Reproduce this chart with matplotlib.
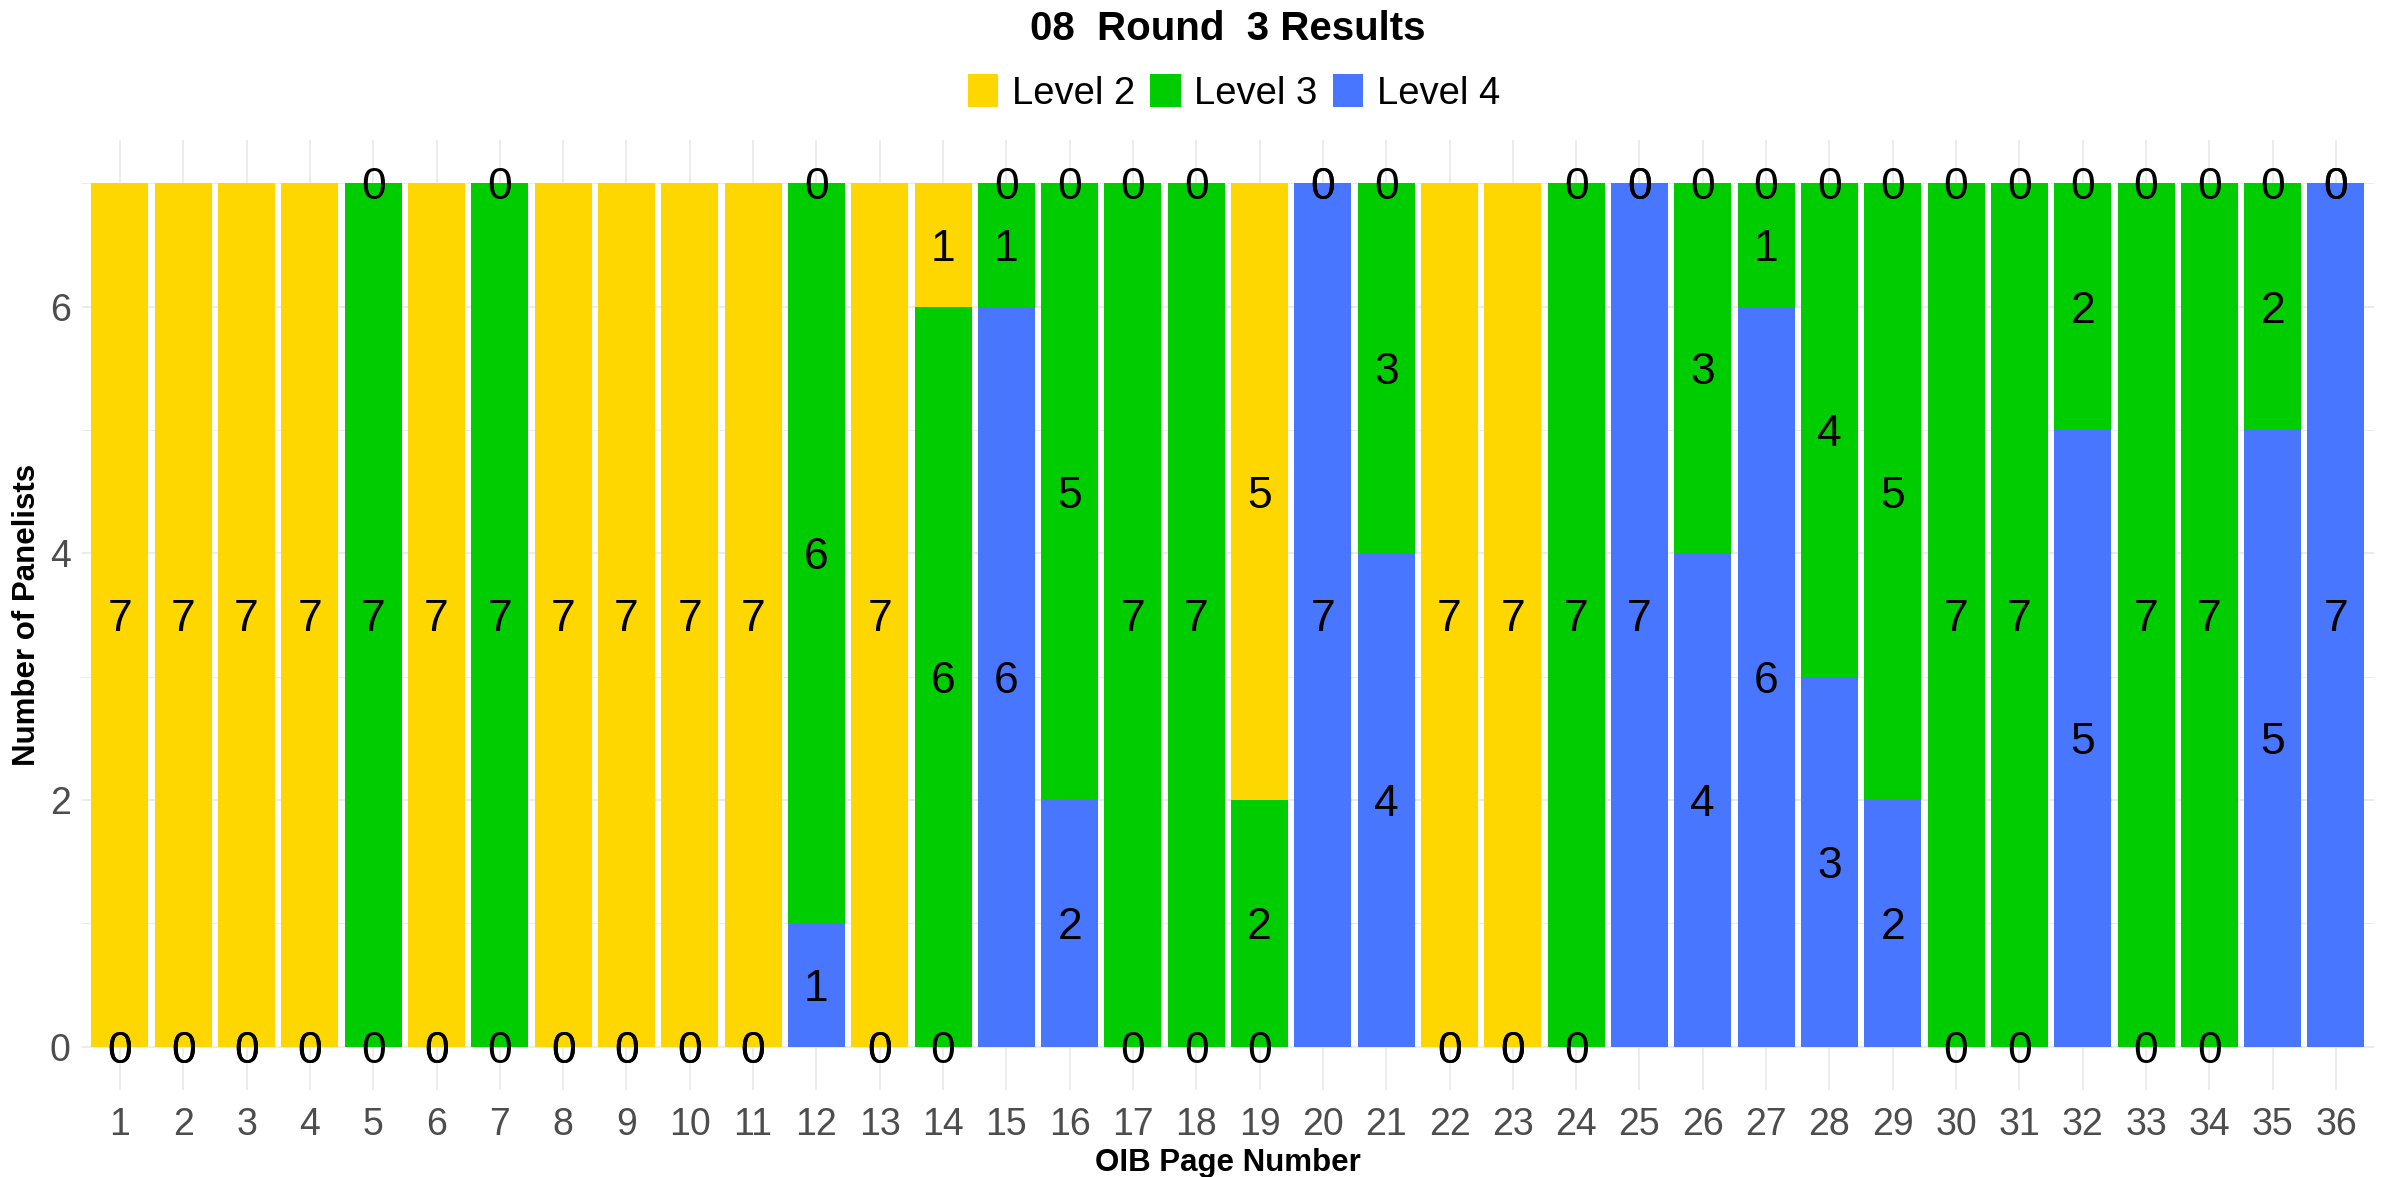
import matplotlib
matplotlib.use('Agg')
import matplotlib.pyplot as plt
from matplotlib.patches import Patch
import numpy as np

pages = list(range(1, 37))
levels = ['Level 2', 'Level 3', 'Level 4']
level2 = [7, 7, 7, 7, 0, 7, 0, 7, 7, 7, 7, 0, 7, 1, 0, 0, 0, 0,
          5, 0, 0, 7, 7, 0, 0, 0, 0, 0, 0, 0, 0, 0, 0, 0, 0, 0]
level3 = [0, 0, 0, 0, 7, 0, 7, 0, 0, 0, 0, 6, 0, 6, 1, 5, 7, 7,
          2, 0, 3, 0, 0, 7, 0, 3, 1, 4, 5, 7, 7, 2, 7, 7, 2, 0]
level4 = [0, 0, 0, 0, 0, 0, 0, 0, 0, 0, 0, 1, 0, 0, 6, 2, 0, 0,
          0, 7, 4, 0, 0, 0, 7, 4, 6, 3, 2, 0, 0, 5, 0, 0, 5, 7]

colors = {'Level 2': '#FFD700', 'Level 3': '#00CD00', 'Level 4': '#4876FF'}

plt.rcParams['font.family'] = ['Liberation Sans', 'DejaVu Sans']

fig = plt.figure(figsize=(23.89, 11.77), dpi=100)
ax = fig.add_axes([0.0343, 0.0739, 0.9594, 0.8071])

x = np.array(pages)
# ggplot stacking: Level 4 at the bottom, Level 2 on top
stack = [('Level 4', level4), ('Level 3', level3), ('Level 2', level2)]
bottom = np.zeros(len(pages))
for name, vals in stack:
    vals = np.array(vals, dtype=float)
    ax.bar(x, vals, width=0.9, bottom=bottom, color=colors[name],
           linewidth=0, zorder=2)
    for xi, b, v in zip(x, bottom, vals):
        ax.text(xi, b + v / 2, '%d' % v, ha='center', va='center_baseline',
                fontsize=32, color='black', zorder=4)
    bottom = bottom + vals

ax.set_xlim(0.4, 36.6)
ax.set_ylim(-0.35, 7.35)
ax.set_xticks(pages)
ax.set_xticklabels([str(p) for p in pages])
ax.set_yticks([0, 2, 4, 6])
ax.set_yticks([1, 3, 5, 7], minor=True)

ax.grid(which='major', color='#EBEBEB', linewidth=1.3, zorder=0)
ax.grid(which='minor', axis='y', color='#EBEBEB', linewidth=0.7, zorder=0)
ax.set_axisbelow(True)
for s in ax.spines.values():
    s.set_visible(False)
ax.tick_params(which='both', length=0)
ax.tick_params(axis='x', labelsize=27, labelcolor='#4D4D4D', pad=12)
ax.tick_params(axis='y', labelsize=27, labelcolor='#4D4D4D', pad=8)

ax.set_xlabel('OIB Page Number', fontsize=22.5, fontweight='bold', labelpad=4)
ax.set_ylabel('Number of Panelists', fontsize=22.5, fontweight='bold', labelpad=6)

fig.text(0.514, 0.975, '08  Round  3 Results', ha='center', va='center',
         fontsize=29, fontweight='bold')

handles = [Patch(facecolor=colors[l], edgecolor='none') for l in levels]
fig.legend(handles, levels, loc='center', bbox_to_anchor=(0.5165, 0.921),
           ncol=3, frameon=False, fontsize=27.5, handlelength=0.8,
           handleheight=0.93, handletextpad=0.35, columnspacing=0.4,
           borderaxespad=0, borderpad=0)

fig.savefig('out.png', dpi=100)
